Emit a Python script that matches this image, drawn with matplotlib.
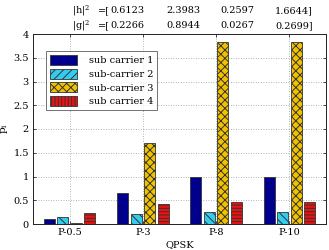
import matplotlib
matplotlib.use("Agg")
import matplotlib.pyplot as plt
from matplotlib.patches import Patch
import numpy as np

plt.rcParams['hatch.linewidth'] = 0.7
plt.rcParams['font.family'] = ['DejaVu Serif']
plt.rcParams['mathtext.fontset'] = 'dejavuserif'

categories = ["P-0.5", "P-3", "P-8", "P-10"]
series_names = ["sub carrier 1", "sub-carrier 2", "sub-carrier 3", "sub carrier 4"]
sub1 = [0.11, 0.65, 1.0, 1.0]
sub2 = [0.14, 0.22, 0.25, 0.25]
sub3 = [0.02, 1.70, 3.83, 3.83]
sub4 = [0.24, 0.43, 0.47, 0.47]
h2 = ["0.6123", "2.3983", "0.2597", "1.6644"]
g2 = ["0.2266", "0.8944", "0.0267", "0.2699"]

colors = ["#00008C", "#33CCEE", "#F2C200", "#EE1111"]
bar_hatches = [None, "\\\\\\\\", "xxxx", "-----"]
leg_hatches = [None, "////", "xxxx", "|||||"]

FS = 7

fig = plt.figure(figsize=(3.29, 2.5), dpi=100)
ax = fig.add_axes([33/329, 1-224/250, 293/329, 190/250])

x = np.arange(1, len(categories) + 1)
step = 0.184
width = 0.15
for i, vals in enumerate([sub1, sub2, sub3, sub4]):
    ax.bar(x + (i - 1.5) * step, vals, width, color=colors[i],
           edgecolor="#333333", linewidth=0.6, hatch=bar_hatches[i], zorder=3)

ax.set_xlim(0.5, 4.5)
ax.set_ylim(0, 4)
ax.set_xticks(x)
ax.set_xticklabels(categories)
ax.set_yticks(np.arange(0, 4.01, 0.5))
ax.set_yticklabels(["0", "0.5", "1", "1.5", "2", "2.5", "3", "3.5", "4"])
ax.tick_params(direction="in", labelsize=FS, length=2.5, width=0.5,
               top=True, right=True, pad=3)
ax.grid(True, linestyle=(0, (1, 2)), color="#999999", linewidth=0.6, zorder=0)
for s in ax.spines.values():
    s.set_linewidth(0.7)
    s.set_color("#222222")

ax.set_xlabel("QPSK", fontsize=FS, labelpad=2)
ax.set_ylabel("p$_\\mathregular{i}$", fontsize=FS + 0.5)
ax.yaxis.set_label_coords(-23/293, 0.5)

handles = [Patch(facecolor=colors[i], edgecolor="#333333", linewidth=0.6,
                 hatch=leg_hatches[i], label=series_names[i]) for i in range(4)]
leg = ax.legend(handles=handles, loc="upper left", bbox_to_anchor=(0.045, 0.91),
                fontsize=FS, frameon=True, fancybox=False, handlelength=2.8,
                handleheight=1.2, borderpad=0.4, labelspacing=0.35,
                handletextpad=1.2, borderaxespad=0.0)
leg.get_frame().set_edgecolor("#333333")
leg.get_frame().set_linewidth(0.6)

xs = [110/329, 166/329, 220/329, 275/329]
for row, (lab, vals, yy) in enumerate([("|h|$^2$", h2, 1-13/250), ("|g|$^2$", g2, 1-28/250)]):
    fig.text(72/329, yy, lab, fontsize=FS, va="baseline", ha="left")
    fig.text(98/329, yy, "=[", fontsize=FS, va="baseline", ha="left")
    for j, v in enumerate(vals):
        t = v + ("]" if j == 3 else "")
        fig.text(xs[j], yy, t, fontsize=FS, va="baseline", ha="left")

fig.savefig("out.png", dpi=100)
